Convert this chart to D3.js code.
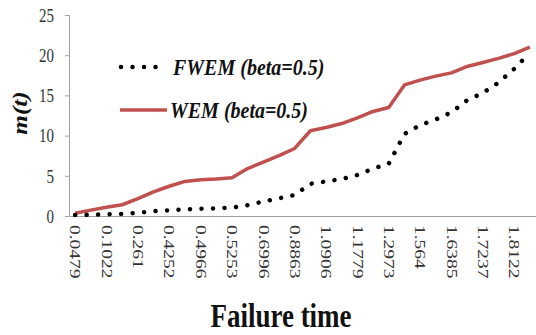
<!DOCTYPE html>
<html>
<head>
<meta charset="utf-8">
<script src="https://cdn.jsdelivr.net/npm/d3@7"></script>
<style>
  body { margin: 0; background: #fff; }
  svg { display: block; }
  text { font-family: "Liberation Serif", "Times New Roman", serif; }
</style>
</head>
<body>
<div id="chart"></div>
<script>
// failure times (only every other one is labelled on the axis)
var failureTimes = [0.0479, 0.0715, 0.1022, 0.1749, 0.261, 0.3376, 0.4252, 0.4657,
    0.4966, 0.5107, 0.5253, 0.6112, 0.6996, 0.7941, 0.8863, 0.9809, 1.0906, 1.1321,
    1.1779, 1.2352, 1.2973, 1.4488, 1.564, 1.6021, 1.6385, 1.6812, 1.7237, 1.7694,
    1.8122, 1.8547];

var fwem = [0.12, 0.15, 0.2, 0.25, 0.4, 0.6, 0.7, 0.83, 0.9, 0.95,
    1.05, 1.35, 1.8, 2.2, 2.6, 4.0, 4.3, 4.6, 5.1, 5.9,
    6.5, 10.2, 11.3, 12.0, 12.9, 14.4, 15.3, 16.6, 18.3, 20.3];

var wem = [0.35, 0.73, 1.1, 1.4, 2.15, 3.0, 3.7, 4.3, 4.5, 4.6,
    4.75, 5.9, 6.7, 7.5, 8.4, 10.6, 11.0, 11.5, 12.2, 13.0,
    13.5, 16.3, 16.9, 17.4, 17.8, 18.6, 19.1, 19.6, 20.2, 21.0];

var yTicks = [0, 5, 10, 15, 20, 25];

var seriesNames = ["FWEM (beta=0.5)", "WEM (beta=0.5)"];

var totalWidth = 536,
    totalHeight = 335,
    plotLeft = 69,
    plotRight = 536,
    plotTop = 15,
    plotBottom = 216;

var redColor = "#c0504d",
    axisColor = "#a0a0a0";

var svg = d3.select("#chart").append("svg")
    .attr("width", totalWidth)
    .attr("height", totalHeight);

var xScale = d3.scalePoint()
    .domain(d3.range(failureTimes.length))
    .range([plotLeft, plotRight])
    .padding(0.39);

var yScale = d3.scaleLinear()
    .domain([0, 25])
    .range([plotBottom, plotTop]);

// y axis
var yAxis = d3.axisLeft(yScale)
    .tickValues(yTicks)
    .tickSize(4)
    .tickPadding(0)
    .tickFormat(d3.format("d"));

var gy = svg.append("g")
    .attr("transform", "translate(" + plotLeft + ",0)")
    .call(yAxis);
gy.select(".domain").attr("stroke", axisColor);
gy.selectAll(".tick line").attr("stroke", axisColor);
gy.selectAll(".tick text").remove();
gy.selectAll(".tick").append("text")
    .attr("transform", "translate(-15,0) scale(1,1.2)")
    .attr("text-anchor", "end")
    .attr("dy", "0.35em")
    .attr("fill", "#333")
    .style("font-size", "15px")
    .text(function(d) { return d; });

// x axis, category labels rotated
var xAxis = d3.axisBottom(xScale)
    .tickSize(0)
    .tickFormat("");

var gx = svg.append("g")
    .attr("transform", "translate(0," + plotBottom + ")")
    .call(xAxis);
gx.select(".domain").attr("stroke", axisColor);

gx.selectAll(".tick")
    .filter(function(d) { return d % 2 === 0; })
    .append("text")
    .attr("transform", "translate(0,9) rotate(90) scale(1.3,1)")
    .attr("text-anchor", "start")
    .attr("dy", "0.35em")
    .attr("fill", "#333")
    .style("font-size", "15px")
    .text(function(d) { return failureTimes[d]; });

// lines
var line = d3.line()
    .x(function(d, i) { return xScale(i); })
    .y(function(d) { return yScale(d); });

svg.append("path")
    .datum(wem)
    .attr("d", line)
    .attr("fill", "none")
    .attr("stroke", redColor)
    .attr("stroke-width", 3.5)
    .attr("stroke-linejoin", "round");

svg.append("path")
    .datum(fwem)
    .attr("d", line)
    .attr("fill", "none")
    .attr("stroke", "#000")
    .attr("stroke-width", 4.5)
    .attr("stroke-linecap", "round")
    .attr("stroke-dasharray", "0.01 11.5");

// legend
var legend = svg.append("g");

legend.append("line")
    .attr("x1", 121).attr("x2", 158)
    .attr("y1", 67).attr("y2", 67)
    .attr("stroke", "#000")
    .attr("stroke-width", 4.5)
    .attr("stroke-linecap", "round")
    .attr("stroke-dasharray", "0.01 11.5");

legend.append("line")
    .attr("x1", 120).attr("x2", 167)
    .attr("y1", 110).attr("y2", 110)
    .attr("stroke", redColor)
    .attr("stroke-width", 3.5);

legend.selectAll("text.leg")
    .data(seriesNames)
    .enter().append("text")
    .attr("class", "leg")
    .attr("transform", function(d, i) {
        return i === 0 ? "translate(173,67) scale(1,1.15)" : "translate(170,110) scale(1,1.15)";
    })
    .attr("dy", "0.35em")
    .attr("fill", "#111")
    .style("font-size", "20px")
    .style("font-weight", "bold")
    .style("font-style", "italic")
    .text(function(d) { return d; });

// axis titles
svg.append("text")
    .attr("transform", "translate(27,113) rotate(-90) scale(1.2,1)")
    .attr("text-anchor", "middle")
    .attr("fill", "#111")
    .style("font-size", "21px")
    .style("font-weight", "bold")
    .style("font-style", "italic")
    .text("m(t)");

svg.append("text")
    .attr("transform", "translate(281,327) scale(1,1.25)")
    .attr("text-anchor", "middle")
    .attr("fill", "#111")
    .style("font-size", "27px")
    .style("font-weight", "bold")
    .text("Failure time");
</script>
</body>
</html>
